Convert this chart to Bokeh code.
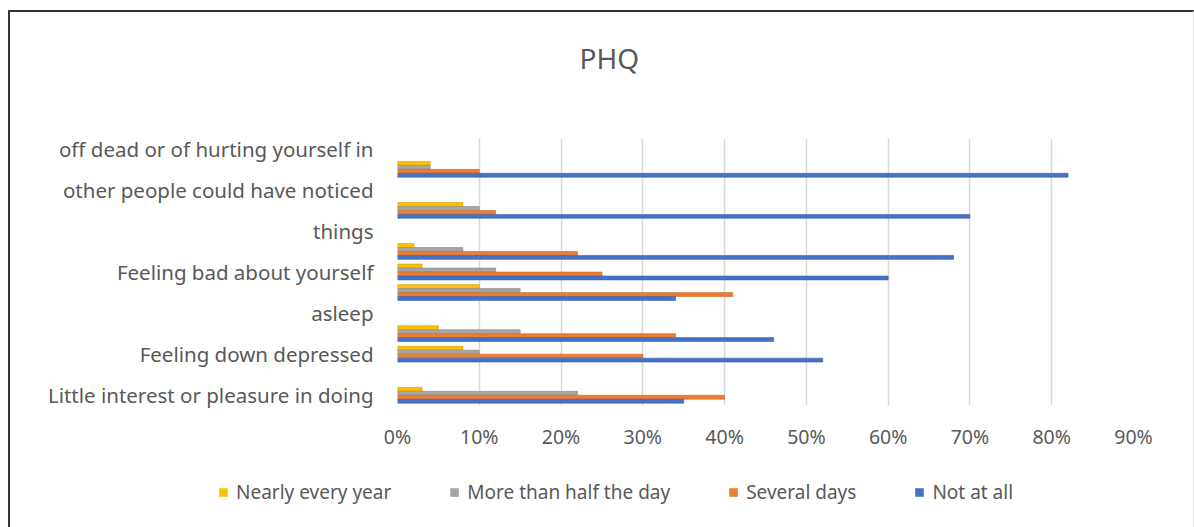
from bokeh.plotting import figure
from bokeh.layouts import column
from bokeh.models import ColumnDataSource, FixedTicker, Legend, LegendItem, Range1d, NumeralTickFormatter
from bokeh.embed import file_html
from bokeh.resources import INLINE

# rows bottom -> top (13 category slots; only every other label is visible)
row_labels = ["Little interest or pleasure in doing", "", "Feeling down depressed", "",
              "asleep", "", "Feeling bad about yourself", "", "things", "",
              "other people could have noticed", "", "off dead or of hurting yourself in"]
series_names = ["Nearly every year", "More than half the day", "Several days", "Not at all"]
nearly_every = [0.03, None, 0.08, 0.05, None, 0.10, 0.03, 0.02, None, 0.08, None, 0.04, None]
more_than_half = [0.22, None, 0.10, 0.15, None, 0.15, 0.12, 0.08, None, 0.10, None, 0.04, None]
several_days = [0.40, None, 0.30, 0.34, None, 0.41, 0.25, 0.22, None, 0.12, None, 0.10, None]
not_at_all = [0.35, None, 0.52, 0.46, None, 0.34, 0.60, 0.68, None, 0.70, None, 0.82, None]
x_ticks = [0, 0.1, 0.2, 0.3, 0.4, 0.5, 0.6, 0.7, 0.8, 0.9]

colors = ["#FFC000", "#A5A5A5", "#ED7D31", "#4472C4"]
edges = ["#C99A00", "#8A8A8A", "#C9682A", "#3A62A8"]
offsets = [0.29, 0.097, -0.097, -0.29]
series = [nearly_every, more_than_half, several_days, not_at_all]

TXT = "#595959"
FONT = "Noto Sans"

p = figure(width=1183, height=448, output_backend="svg", toolbar_location=None,
           x_range=Range1d(0, 0.9), y_range=Range1d(-0.5, 12.5),
           min_border_left=387, min_border_right=60, min_border_top=126, min_border_bottom=55)
p.outline_line_color = None

p.title.text = "PHQ\n"
p.title.align = "left"
p.title.offset = 182
p.title.text_font = FONT
p.title.text_font_size = "28px"
p.title.text_font_style = "normal"
p.title.text_color = TXT
p.title.standoff = 48

# legend strip under the chart (same data, ranges chosen so bars fall outside it)
pl = figure(width=1183, height=67, output_backend="svg", toolbar_location=None,
            x_range=Range1d(0, 1), y_range=Range1d(100, 101),
            x_axis_location=None, y_axis_location=None,
            min_border=0, outline_line_color=None)
pl.grid.visible = False
for fig in (p, pl):
    if "frame_align" in fig.properties():
        fig.frame_align = False

items = []
for name, vals, c, e, off in zip(series_names, series, colors, edges, offsets):
    ys = [i + off for i, v in enumerate(vals) if v is not None]
    xs = [v for v in vals if v is not None]
    src = ColumnDataSource(dict(y=ys, right=xs))
    p.hbar(y="y", left=0, right="right", height=0.19, source=src,
           fill_color=c, line_color=e, line_width=0.6)
    r2 = pl.hbar(y="y", left=0, right="right", height=0.19, source=src,
                 fill_color=c, line_color=c, line_width=0.6)
    items.append(LegendItem(label=name, renderers=[r2]))

legend = Legend(items=items, orientation="horizontal", location=(208, 22),
                glyph_width=10, glyph_height=10, label_standoff=8, spacing=58,
                label_text_font=FONT, label_text_font_size="19px", label_text_color=TXT,
                border_line_color=None, background_fill_alpha=0, margin=0, padding=0)
pl.add_layout(legend, "center")

p.xaxis.ticker = FixedTicker(ticks=x_ticks)
p.xaxis.formatter = NumeralTickFormatter(format="0%")
p.xaxis.axis_line_color = None
p.xaxis.major_tick_line_color = None
p.xaxis.major_tick_out = 0
p.xaxis.major_tick_in = 0
p.xaxis.minor_tick_line_color = None
p.xaxis.major_label_text_font = FONT
p.xaxis.major_label_text_font_size = "19.5px"
p.xaxis.major_label_text_color = TXT
p.xaxis.major_label_standoff = 17

p.yaxis.ticker = FixedTicker(ticks=list(range(len(row_labels))))
p.yaxis.major_label_overrides = {i: lab for i, lab in enumerate(row_labels)}
p.yaxis.axis_line_color = None
p.yaxis.major_tick_line_color = None
p.yaxis.major_tick_out = 0
p.yaxis.major_tick_in = 0
p.yaxis.minor_tick_line_color = None
p.yaxis.major_label_text_font = FONT
p.yaxis.major_label_text_font_size = "20.5px"
p.yaxis.major_label_text_color = TXT
p.yaxis.major_label_standoff = 24

p.xgrid.ticker = FixedTicker(ticks=x_ticks)
p.xgrid.grid_line_color = "#D9D9D9"
p.xgrid.grid_line_width = 1.5
p.ygrid.grid_line_color = None

layout = column(p, pl, spacing=0)
layout.margin = (10, 0, 0, 8)
layout.styles = {"border-left": "2px solid #333", "border-top": "2px solid #333",
                 "border-right": "1px solid #e4e4e4", "border-bottom": "1px solid #e4e4e4"}

open("out.html", "w").write(file_html(layout, INLINE))
